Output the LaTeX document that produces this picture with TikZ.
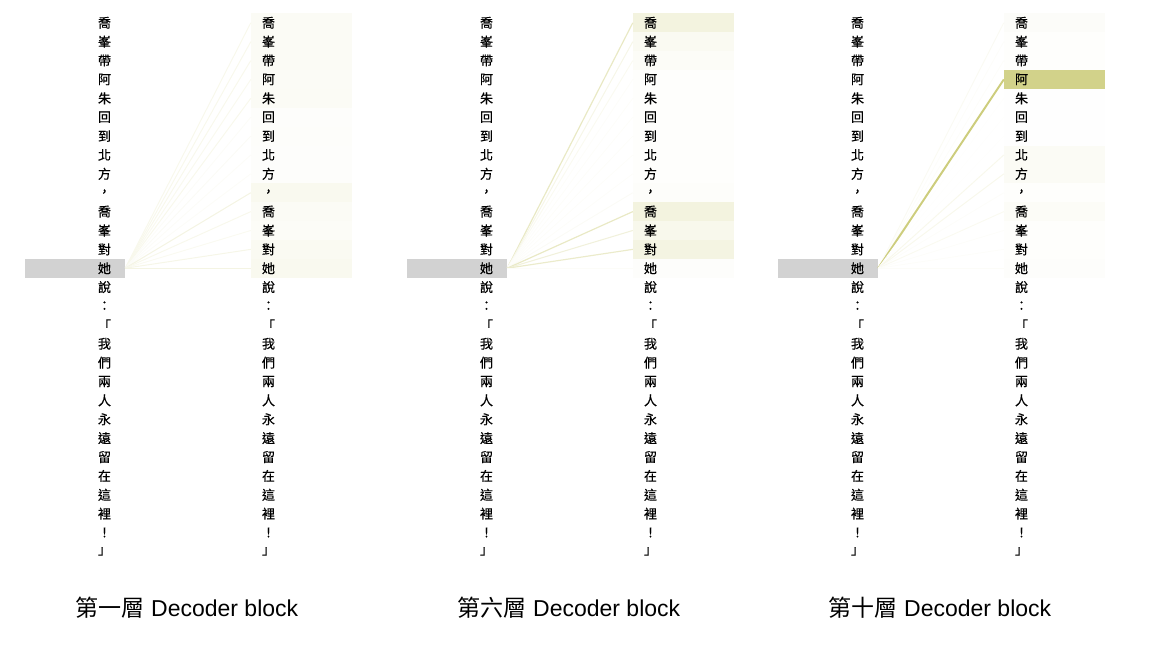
\documentclass[tikz,border=0pt]{standalone}
\usepackage{fontspec}
\setmainfont{Liberation Sans}
\newfontfamily\cjk{Noto Sans CJK TC}
\newfontfamily\cjktok{Noto Sans CJK TC}[FakeBold=0.5]
\definecolor{attn}{RGB}{205,205,125}
\tikzset{
  qrow/.style={text width=72pt,align=right,inner xsep=14pt,inner ysep=0pt,
    minimum height=18.88pt,font=\cjktok\fontsize{13}{13}\selectfont},
  krow/.style={text width=79pt,align=left,inner xsep=11pt,inner ysep=0pt,
    minimum height=18.88pt,font=\cjktok\fontsize{13}{13}\selectfont},
  link/.style={line width=0.9pt},
  title/.style={font=\fontsize{23}{23}\selectfont}
}
\begin{document}
\begin{tikzpicture}[x=1pt,y=-1pt]
\useasboundingbox (0,0) rectangle (1157,646);
\pgfmathsetmacro{\ktop}{13.36}
\pgfmathsetmacro{\kstep}{18.88}
\foreach \p/\dx/\num/\w in {
  a/0/一/{8,8,8,7,8,3,4,3,3,12,8,6,10,12},
  b/382/六/{25,10,6,2,2,2,2,2,2,4,25,15,22,3},
  c/753/十/{5,2,2,90,1,1,1,8,8,2,6,2,2,3}}{
\begin{scope}[xshift=\dx pt]
% cells of the keys
\foreach \v [count=\i] in \w {
  \pgfmathsetmacro{\y}{\ktop+(\i-1)*\kstep}
  \fill[attn!\v] (251,\y) rectangle ++(101,\kstep);
}
\fill[gray!35] (25,\ktop+13*\kstep) rectangle ++(100,\kstep);
% the tokens
\foreach \t [count=\i] in {喬,峯,帶,阿,朱,回,到,北,方,，,喬,峯,對,她,說,：,「,我,們,兩,人,永,遠,留,在,這,裡,！,」}{
  \pgfmathsetmacro{\y}{\ktop+(\i-0.5)*\kstep}
  \node[qrow] (\p-q\i) at (75,\y) {\t};
  \node[krow] (\p-k\i) at (301.5,\y) {\t};
}
% attention from 她
\foreach \v [count=\i] in \w {
  \pgfmathsetmacro{\lv}{min(100,1.8*\v)}
  \draw[link,attn!\lv,line width=0.9pt+\v*0.012pt] (\p-q14.east) -- (\p-k\i.west);
}
\node[title] (\p-title) at (187,608) {{\cjk 第\num 層} Decoder block};
\end{scope}
}
\end{tikzpicture}
\end{document}
